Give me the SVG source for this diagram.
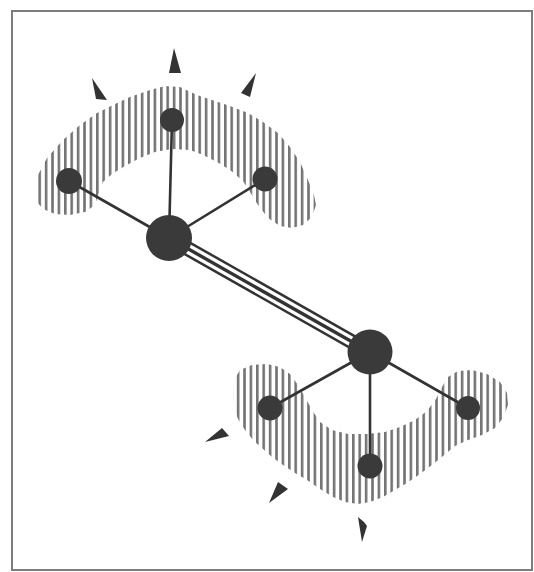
<svg xmlns="http://www.w3.org/2000/svg" width="534" height="572" viewBox="0 0 534 572">
<style>
.frame{fill:#fff;stroke:#7d7d7d;stroke-width:2}
.hatch{fill:url(#vh);stroke:none}
.spoke{stroke:#333;stroke-width:2.6;fill:none;stroke-linecap:round}
.hub{fill:#3a3a3a}
.leaf{fill:#3a3a3a}
.arrow{fill:#333}
</style>
<defs>
<pattern id="vh" width="6.4" height="10" patternUnits="userSpaceOnUse">
<rect x="0" y="0" width="2.6" height="10" fill="#747474"/>
</pattern>
</defs>
<rect class="frame" x="12" y="11" width="520" height="559"/>
<g id="regions">
<polygon class="hatch" points="36,195 38,175 47,158 63,140 80,125 97,113 115,104 130,97 150,90 165,86 180,87 197,95 215,101 230,106 248,113 263,122 278,133 290,147 300,162 308,180 314,195 316,205 312,217 303,225 292,228 280,226 268,218 258,205 250,192 243,181 230,170 217,162 203,155 190,150 172,149 155,152 140,158 125,166 112,174 103,182 98,195 95,205 85,212 70,215 55,214 43,209 37,202"/>
<polygon class="hatch" points="233,395 234,380 240,370 252,365 267,364 280,367 290,374 298,385 305,397 312,410 320,422 332,430 348,434 367,434 385,432 400,427 415,420 427,411 436,399 442,387 448,377 458,371 472,370 487,374 500,382 507,393 508,405 503,418 495,428 482,435 468,440 455,446 443,456 432,465 420,474 407,483 395,490 383,497 370,502 358,504 345,502 333,497 320,489 307,480 295,473 283,465 272,457 263,449 253,440 245,430 238,419 234,408"/>
</g>
<g id="connectors">
<line class="spoke" x1="169" y1="238" x2="172" y2="120"/>
<line class="spoke" x1="169" y1="238" x2="69" y2="181"/>
<line class="spoke" x1="169" y1="238" x2="265" y2="179"/>
<line class="spoke" x1="370" y1="352" x2="270" y2="408"/>
<line class="spoke" x1="370" y1="352" x2="370" y2="466"/>
<line class="spoke" x1="370" y1="352" x2="468" y2="408"/>
<g id="triple-link">
<line x1="169" y1="238" x2="370" y2="352" stroke="#333" stroke-width="15"/>
<line x1="169" y1="238" x2="370" y2="352" stroke="#fff" stroke-width="10"/>
<line x1="169" y1="238" x2="370" y2="352" stroke="#333" stroke-width="3.4"/>
</g>
</g>
<g id="hub-a"><circle class="hub" cx="169" cy="238" r="23"/></g>
<g id="hub-b"><circle class="hub" cx="370" cy="352" r="22.5"/></g>
<g id="leaf-a1"><circle class="leaf" cx="172" cy="120" r="12"/></g>
<g id="leaf-a2"><circle class="leaf" cx="69" cy="181" r="13"/></g>
<g id="leaf-a3"><circle class="leaf" cx="265" cy="179" r="12.5"/></g>
<g id="leaf-b1"><circle class="leaf" cx="270" cy="408" r="12.5"/></g>
<g id="leaf-b2"><circle class="leaf" cx="370" cy="466" r="12.5"/></g>
<g id="leaf-b3"><circle class="leaf" cx="468" cy="408" r="12"/></g>
<g id="arrows">
<polygon class="arrow" points="92,78 107,100 96,99"/>
<polygon class="arrow" points="174,48 181,73 169,73"/>
<polygon class="arrow" points="256,73 250,97 241,93"/>
<polygon class="arrow" points="205,442 222,428 229,436"/>
<polygon class="arrow" points="269,503 278,482 288,489"/>
<polygon class="arrow" points="362,542 358,517 364,522 367,526"/>
</g>
</svg>
